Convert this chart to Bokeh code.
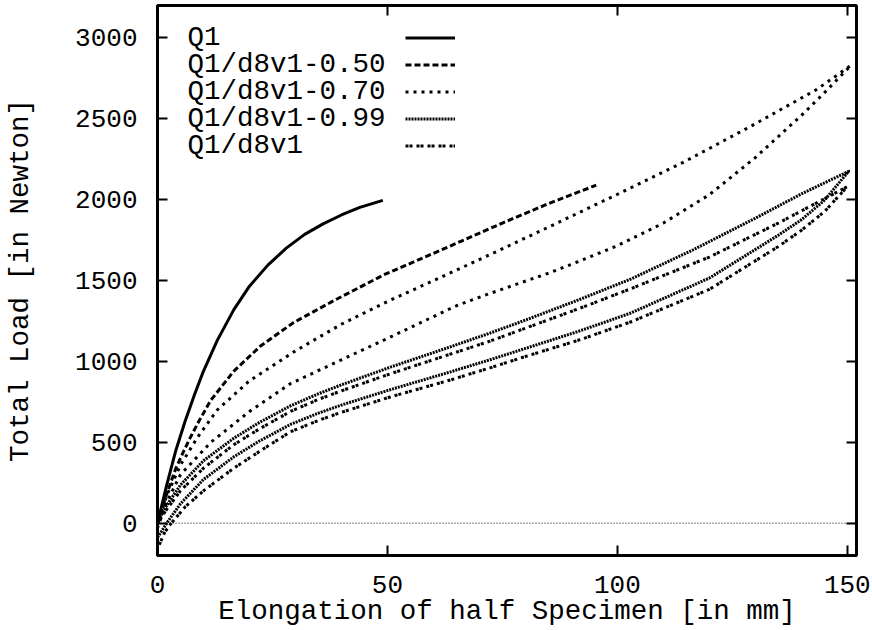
from bokeh.plotting import figure
from bokeh.models import Range1d, FixedTicker, LinearAxis, Span, Legend, LegendItem, Label
from bokeh.embed import file_html
from bokeh.resources import INLINE

FONT = "Liberation Mono"
TICK_FS = "26px"
FS = "27.5px"

x_ticks = [0, 50, 100, 150]
y_ticks = [0, 500, 1000, 1500, 2000, 2500, 3000]
series_names = ["Q1", "Q1/d8v1-0.50", "Q1/d8v1-0.70", "Q1/d8v1-0.99", "Q1/d8v1"]
x_label = "Elongation of half Specimen [in mm]"
y_label = "Total Load [in Newton]"

# Q1 (loading only)
q1_x = [0, 2, 4, 6, 8, 10, 13, 16.6, 20, 24, 28, 32, 36, 40, 44, 49]
q1_y = [0, 235, 451, 630, 790, 940, 1130, 1320, 1465, 1595, 1700, 1785, 1850, 1905, 1952, 1995]

# Q1/d8v1-0.50
d050_x = [0, 2, 4, 5.8, 7.2, 9, 11.6, 16.6, 22.4, 29.6, 38.3, 49.2, 62.2, 75, 85, 95.4]
d050_y = [0, 180, 340, 451, 533, 630, 760, 940, 1095, 1240, 1375, 1535, 1695, 1855, 1975, 2089]

# Q1/d8v1-0.70 : upper and lower branch
d070u_x = [0, 2, 5, 8.7, 13, 20, 30, 40, 50, 62, 72.3, 85.4, 99.8, 114.3, 128.8, 143.3, 150.8]
d070u_y = [0, 170, 360, 530, 700, 880, 1065, 1230, 1370, 1525, 1660, 1835, 2030, 2230, 2450, 2680, 2830]
d070l_x = [0, 2, 5, 11.6, 20, 28.9, 40, 50.6, 65, 72.3, 85, 90, 100, 110, 120, 130, 140, 145, 150.8]
d070l_y = [-30, 130, 300, 500, 690, 862, 1010, 1150, 1344, 1420, 1545, 1600, 1715, 1855, 2030, 2260, 2520, 2660, 2830]

# Q1/d8v1-0.99 : upper and lower branch
d099u_x = [0, 2, 5, 10, 16.6, 22, 28.9, 35, 40, 50.6, 63.7, 72.3, 80, 92, 103, 116.5, 130, 140, 150.3]
d099u_y = [0, 110, 236, 386, 525, 620, 725, 800, 855, 964, 1090, 1175, 1255, 1385, 1510, 1690, 1885, 2035, 2175]
d099l_x = [0, 2, 5, 10, 16.6, 22, 28.9, 35, 40, 50.6, 63.7, 72.3, 80, 92, 103, 120, 135, 140, 145, 150.3]
d099l_y = [-90, 0, 120, 270, 410, 505, 610, 680, 730, 825, 935, 1010, 1080, 1190, 1300, 1515, 1780, 1875, 1995, 2175]

# Q1/d8v1 : upper and lower branch
d8v1u_x = [0, 2, 5, 10, 16.6, 22, 28.9, 35, 40, 50.6, 63.7, 72.3, 80, 92, 103, 120, 135, 150]
d8v1u_y = [0, 85, 200, 340, 485, 580, 690, 765, 818, 923, 1045, 1125, 1205, 1330, 1450, 1645, 1855, 2080]
d8v1l_x = [0, 1.5, 3, 6, 10, 16.6, 22, 28.9, 35, 40, 50.6, 63.7, 72.3, 80, 92, 103, 120, 135, 140, 145, 150]
d8v1l_y = [-160, -60, 0, 100, 200, 340, 440, 565, 635, 685, 780, 885, 960, 1030, 1135, 1245, 1445, 1710, 1810, 1925, 2080]


def loop(ux, uy, lx, ly):
    return list(ux) + list(lx)[::-1], list(uy) + list(ly)[::-1]


p = figure(width=872, height=630, x_range=Range1d(0, 152), y_range=Range1d(-200, 3200),
           output_backend="svg", toolbar_location=None,
           min_border_left=157, min_border_right=16, min_border_top=5, min_border_bottom=75)
p.background_fill_color = "white"
p.border_fill_color = "white"
p.outline_line_color = "black"
p.outline_line_width = 3
p.xgrid.visible = False
p.ygrid.visible = False

p.xaxis.ticker = FixedTicker(ticks=x_ticks)
p.yaxis.ticker = FixedTicker(ticks=y_ticks)
for ax in (p.xaxis[0], p.yaxis[0]):
    ax.major_tick_in = 10
    ax.major_tick_out = 0
    ax.major_tick_line_width = 2
    ax.minor_tick_line_color = None
    ax.axis_line_width = 3
    ax.major_label_text_font = FONT
    ax.major_label_text_font_size = TICK_FS
    ax.major_label_text_color = "black"
    ax.axis_label_text_font = FONT
    ax.axis_label_text_font_size = FS
    ax.axis_label_text_font_style = "normal"
    ax.axis_label_text_color = "black"
p.xaxis.axis_label = x_label
p.yaxis.axis_label = y_label
p.xaxis.major_label_standoff = 20
p.yaxis.major_label_standoff = 20
p.xaxis.axis_label_standoff = 0
p.yaxis.axis_label_standoff = 36

for tks, side in ((x_ticks, "above"), (y_ticks, "right")):
    ax = LinearAxis(ticker=FixedTicker(ticks=tks), major_tick_in=10, major_tick_out=0,
                    major_tick_line_width=2, minor_tick_line_color=None,
                    axis_line_color=None, major_label_text_font_size="1px",
                    major_label_text_color=None, major_label_standoff=0)
    p.add_layout(ax, side)

p.add_layout(Span(location=0, dimension="width", line_color="black", line_width=1,
                  line_dash="1 2"))

styles = [("solid", 3), ("6 3", 3), ("3 5", 3), ("2 1", 3), ("3 1 3 4", 3)]
data = [
    (q1_x, q1_y),
    (d050_x, d050_y),
    loop(d070u_x, d070u_y, d070l_x, d070l_y),
    loop(d099u_x, d099u_y, d099l_x, d099l_y),
    loop(d8v1u_x, d8v1u_y, d8v1l_x, d8v1l_y),
]
renderers = []
for (xs, ys), (dash, w) in zip(data, styles):
    r = p.line(xs, ys, line_color="black", line_width=w, line_dash=dash, line_join="round")
    renderers.append(r)

legend = Legend(items=[LegendItem(label=" ", renderers=[r]) for r in renderers],
                location=(248, 396), glyph_width=50, glyph_height=27, label_height=27,
                label_width=1, spacing=0, padding=0, margin=0, label_standoff=0,
                label_text_font_size="1px", label_text_color=None,
                border_line_color=None, background_fill_alpha=0)
p.add_layout(legend, "center")

for i, name in enumerate(series_names):
    p.add_layout(Label(x=30, y=518 - 27 * i, x_units="screen", y_units="screen", text=name,
                       text_font=FONT, text_font_size=FS, text_color="black",
                       text_baseline="middle", text_align="left"))

open("out.html", "w").write(file_html(p, INLINE))
